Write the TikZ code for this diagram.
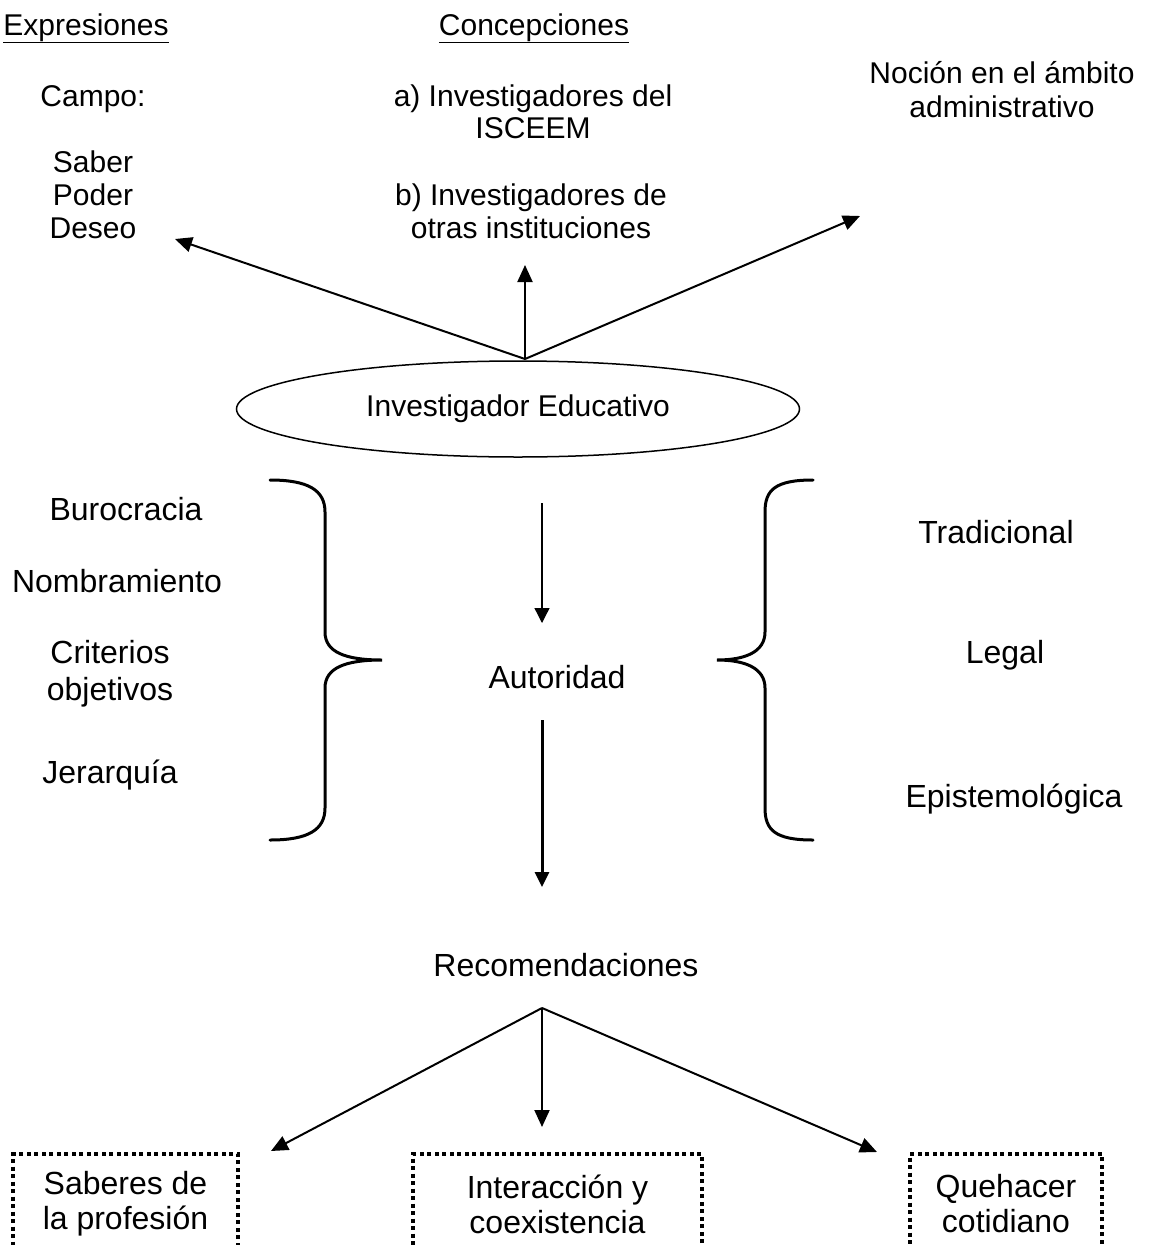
\documentclass[tikz,border=0pt]{standalone}
\usepackage{fontspec}
\setmainfont{Liberation Sans}
\usetikzlibrary{arrows.meta,shapes.geometric}

\begin{document}
\begin{tikzpicture}[x=1pt,y=-1pt,
  % multi-line labels are placed by the baseline of their last line
  lbl/.style={font=\fontsize{30}{34}\selectfont, inner sep=0pt, anchor=base, align=center},
  biglbl/.style={lbl, font=\fontsize{32}{37}\selectfont},
  tip/.style={-{Triangle[length=17pt,width=15pt]}},
  thinarrow/.style={-{Triangle[length=15pt,width=15pt]}, line width=1.3pt},
  midarrow/.style={tip, line width=2pt},
  thickarrow/.style={-{Triangle[length=15pt,width=14pt]}, line width=3pt},
  bracepath/.style={line width=3pt, line cap=round},
  dotbox/.style={draw, line width=4pt, dash pattern=on 4pt off 3.5pt,
    minimum width=#1, minimum height=100pt, anchor=north, inner sep=0pt,
    align=center, font=\fontsize{32}{35}\selectfont}]

\useasboundingbox (0,0) rectangle (1163,1245);
\fill[white] (0,0) rectangle (1163,1245);

% column headings
\node[lbl] (hexp) at (86,35) {\underline{Expresiones}};
\node[lbl] (hcon) at (534,35) {\underline{Concepciones}};

% upper labels
\node[lbl] (campo) at (93,106) {Campo:};
\node[lbl, font=\fontsize{30}{33}\selectfont] (spd) at (93,238) {Saber\\Poder\\Deseo};
\node[lbl, font=\fontsize{30}{32}\selectfont] (inva) at (533,138) {a) Investigadores del\\ISCEEM};
\node[lbl, font=\fontsize{30}{33}\selectfont] (invb) at (531,238) {b) Investigadores de\\otras instituciones};
\node[lbl] (nocion) at (1002,117) {Noción en el ámbito\\administrativo};

% central ellipse
\node[ellipse, draw, line width=1.5pt, minimum width=563pt, minimum height=96pt,
  inner sep=0pt, font=\fontsize{30}{34}\selectfont] (ie) at (518,409) {Investigador Educativo};
\coordinate (apex) at (525,359);
\coordinate (tipL) at (175,239);
\coordinate (tipU) at (525,265);
\coordinate (tipR) at (860,216);
\draw[midarrow] (apex) -- (tipL);
\draw[midarrow] (apex) -- (tipU);
\draw[midarrow] (apex) -- (tipR);

% left group
\node[biglbl] (buro) at (126,520) {Burocracia};
\node[biglbl] (nomb) at (117,592) {Nombramiento};
\node[biglbl] (crit) at (110,700) {Criterios\\objetivos};
\node[biglbl] (jera) at (110,783) {Jerarquía};

% right group
\node[biglbl] (trad) at (996,543) {Tradicional};
\node[biglbl] (legal) at (1005,663) {Legal};
\node[biglbl] (epis) at (1014,807) {Epistemológica};

% braces
\draw[bracepath] (270,480) .. controls (308,480) and (325,490) .. (325,512)
  -- (325,632) .. controls (325,652) and (345,660) .. (382,660)
  .. controls (345,660) and (325,668) .. (325,688)
  -- (325,808) .. controls (325,830) and (308,840) .. (270,840);
\draw[bracepath] (813,480) .. controls (775,480) and (765,490) .. (765,512)
  -- (765,632) .. controls (765,652) and (745,660) .. (717,660)
  .. controls (745,660) and (765,668) .. (765,688)
  -- (765,808) .. controls (765,830) and (775,840) .. (813,840);

% centre column
\node[biglbl] (aut) at (557,688) {Autoridad};
\coordinate (a1s) at (542,503);
\coordinate (a1e) at (542,623);
\coordinate (a2s) at (542,720);
\coordinate (a2e) at (542,887);
\draw[thinarrow] (a1s) -- (a1e);
\draw[thickarrow] (a2s) -- (a2e);

\node[biglbl] (rec) at (566,976) {Recomendaciones};
\coordinate (fan) at (542,1008);
\coordinate (f1) at (271,1151);
\coordinate (f2) at (542,1127);
\coordinate (f3) at (877,1152);
\draw[midarrow] (fan) -- (f1);
\draw[midarrow] (fan) -- (f2);
\draw[midarrow] (fan) -- (f3);

% bottom boxes
\node[dotbox=225pt] (b1) at (125.5,1152) {Saberes de\\la profesión};
\node[dotbox=289pt] (b2) at (557.5,1152) {Interacción y\\coexistencia};
\node[dotbox=192pt] (b3) at (1006,1152) {Quehacer\\cotidiano};
\end{tikzpicture}
\end{document}
